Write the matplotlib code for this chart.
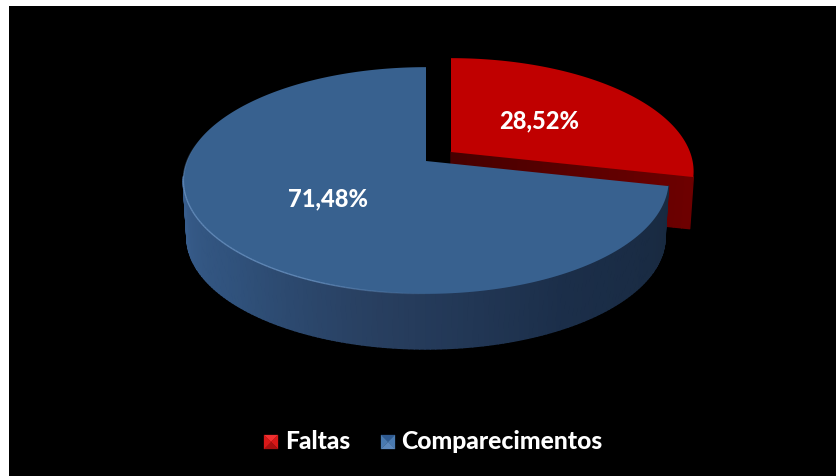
import numpy as np
import matplotlib
matplotlib.use("Agg")
import matplotlib.pyplot as plt
from matplotlib.collections import PolyCollection
from matplotlib.colors import to_rgb
from matplotlib.patches import Polygon, Rectangle

categories = ["Faltas", "Comparecimentos"]
values = [28.52, 71.48]

# pie geometry in pixels, perspective comes from k
cx, cy = 426, 162
rx, ry = 239, 110
k = 0.172
depth = 57
base_scale = 0.985
red_shift = (25, -9)

top_blue = "#38618f"
top_red = "#c00000"
wall_stops = [(102, "#18293f"), (150, "#1b2e49"), (190, "#283f60"), (225, "#30527c"), (270, "#3a6090"), (360, "#3a6090")]


def project(theta, r=1.0, scale=1.0, dy=0.0, shift=(0, 0)):
    # theta in degrees, clockwise from 12 o'clock
    t = np.radians(theta)
    X = r * np.sin(t)
    Y = r * np.cos(t)
    s = 1 / (1 + k * Y)
    return np.column_stack([cx + shift[0] + scale * rx * X * s, cy + shift[1] + dy - scale * ry * Y * s])


def wall_color(theta):
    th = [a for a, c in wall_stops]
    rgb = np.array([to_rgb(c) for a, c in wall_stops])
    return [np.interp(theta, th, rgb[:, i]) for i in range(3)]


def bevel(ax, x, y, size, cols):
    # legend key: four facets meeting in the middle
    c = (x + size / 2, y + size / 2)
    corners = [(x, y), (x + size, y), (x + size, y + size), (x, y + size)]
    for i in range(4):
        ax.add_patch(Polygon([corners[i], corners[(i + 1) % 4], c], facecolor=cols[i], edgecolor=cols[i], lw=0.2))


split = values[0] / sum(values) * 360

fig = plt.figure(figsize=(8.36, 4.77), dpi=100, facecolor="white")
ax = fig.add_axes([0, 0, 1, 1])
ax.set_xlim(0, 836)
ax.set_ylim(477, 0)
ax.axis("off")
ax.add_patch(Rectangle((9, 7), 827, 470, facecolor="black", edgecolor="none"))

# red slice: inner wall, then top
a0 = project(split, 0, shift=red_shift)[0]
a1 = project(split, 1, shift=red_shift)[0]
b0 = project(split, 0, base_scale, depth - 5, red_shift)[0]
b1 = project(split, 1, base_scale, depth - 5, red_shift)[0]
fracs = np.linspace(0, 1, 30)
quads = []
cols = []
for f0, f1 in zip(fracs[:-1], fracs[1:]):
    quads.append([a0 + (a1 - a0) * f0, a0 + (a1 - a0) * f1, b0 + (b1 - b0) * f1, b0 + (b1 - b0) * f0])
    cols.append(np.array(to_rgb("#470000")) + (np.array(to_rgb("#6e0000")) - np.array(to_rgb("#470000"))) * f0)
ax.add_collection(PolyCollection(quads, facecolors=cols, edgecolors=cols, linewidths=1.0))

arc = np.linspace(0, split, 80)
red_pts = np.vstack([project(np.array([0.0]), 0, shift=red_shift), project(arc, shift=red_shift)])
ax.add_patch(Polygon(red_pts, closed=True, facecolor=top_red, edgecolor="none"))

# blue slice: outer wall, then top
arc = np.linspace(split, 360, 240)
up = project(arc)
down = project(arc, 1, base_scale, depth)
quads = []
cols = []
for i in range(len(arc) - 1):
    if arc[i] > 261:
        continue
    quads.append([up[i], up[i + 1], down[i + 1], down[i]])
    cols.append(wall_color(arc[i]))
ax.add_collection(PolyCollection(quads, facecolors=cols, edgecolors=cols, linewidths=1.2))

blue_pts = np.vstack([project(np.array([0.0]), 0), up])
ax.add_patch(Polygon(blue_pts, closed=True, facecolor=top_blue, edgecolor="none"))

# light rim on the front left of the blue top
for i in range(len(arc) - 1):
    if 178 < arc[i] < 280:
        fade = min((arc[i] - 178) / 25, (280 - arc[i]) / 25, 1)
        ax.plot(up[i:i + 2, 0], up[i:i + 2, 1], color="#6d95c4", lw=1.0, alpha=0.75 * fade, solid_capstyle="butt")

# labels
for name, v, pos in zip(categories, values, [(539, 121), (328, 199)]):
    ax.text(pos[0], pos[1], f"{v:.2f}%".replace(".", ","), color="white", fontsize=17, fontweight=900,
            family="Lato", ha="center", va="center")

# legend
bevel(ax, 264, 436, 14, ["#f03030", "#d81818", "#a81010", "#d81818"])
bevel(ax, 381, 436, 14, ["#2f5a90", "#4a7ab0", "#5c88bc", "#4a7ab0"])
ax.text(285, 442, categories[0], color="white", fontsize=17.7, fontweight=900, family="Lato", ha="left", va="center")
ax.text(401, 442, categories[1], color="white", fontsize=17.8, fontweight=900, family="Lato", ha="left", va="center")

fig.savefig("out.png", dpi=100, facecolor=fig.get_facecolor())
